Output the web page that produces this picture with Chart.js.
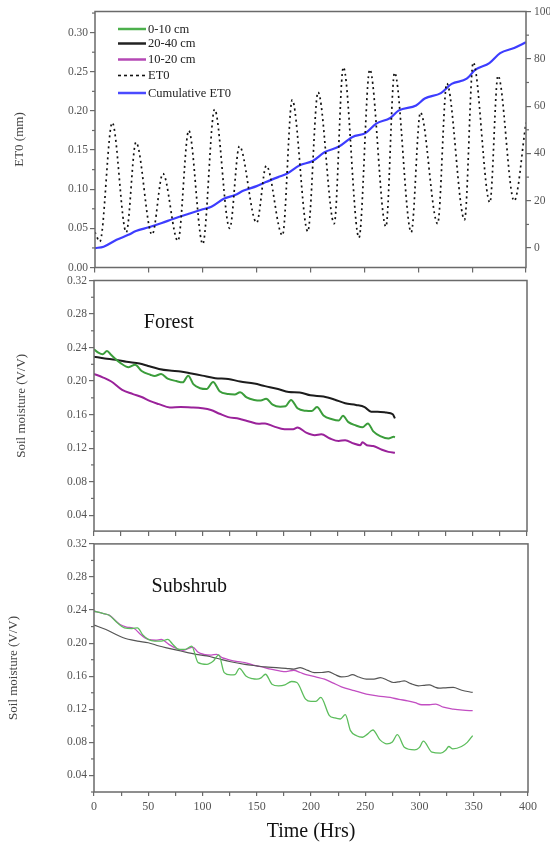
<!DOCTYPE html>
<html>
<head>
<meta charset="utf-8">
<script src="https://cdn.jsdelivr.net/npm/chart.js@4.4.1/dist/chart.umd.min.js"></script>
<style>
  body { margin: 0; background: #fff; width: 550px; height: 844px; position: relative; overflow: hidden; }
  canvas { position: absolute; left: 0; }
</style>
</head>
<body>
<canvas id="et" width="550" height="280" style="top:0px;width:550px;height:280px"></canvas>
<canvas id="forest" width="550" height="270" style="top:270px;width:550px;height:270px"></canvas>
<canvas id="shrub" width="550" height="309" style="top:535px;width:550px;height:309px"></canvas>
<script>
// hourly ET0 (mm): daily lows and highs
const et0Hours  = [0, 4.5, 16, 29, 38, 53, 63, 77, 87, 100, 111, 125, 134, 150, 159, 174, 183, 197.5, 207, 222, 230.5, 245, 255, 270, 278, 293.5, 302, 318, 326.5, 343, 351, 366.5, 374, 389, 400];
const et0Values = [0.045, 0.033, 0.185, 0.045, 0.160, 0.042, 0.120, 0.034, 0.175, 0.030, 0.202, 0.050, 0.155, 0.057, 0.130, 0.041, 0.214, 0.046, 0.224, 0.056, 0.256, 0.038, 0.253, 0.052, 0.249, 0.045, 0.198, 0.056, 0.235, 0.061, 0.262, 0.083, 0.245, 0.085, 0.185];

// cumulative ET0 (right axis)
const cumHours  = [0, 8, 20, 31, 38, 50, 62, 73, 87, 100, 108, 120, 130, 138, 150, 158, 170, 178, 190, 202, 213, 226, 239, 251, 261, 274, 282, 298, 306, 321, 331, 345, 353, 366, 376, 389, 400];
const cumValues = [0, 0.6, 3.5, 5.6, 7.2, 8.8, 10.6, 12.4, 14.5, 16.4, 17.5, 21.0, 22.4, 24.3, 26.2, 27.8, 30.0, 31.4, 35.0, 36.8, 40.5, 42.8, 47.0, 48.6, 52.6, 55.0, 58.2, 60.3, 63.2, 65.5, 69.4, 71.6, 75.4, 78.2, 82.4, 84.6, 87.0];

// Forest soil moisture (V/V)
const forestTopHours  = [0, 4, 8, 12, 16, 24, 32, 38, 44, 52, 56, 62, 68, 76, 82, 87, 92, 98, 104, 110, 116, 124, 130, 135, 141, 148, 154, 159, 165, 172, 177, 182, 188, 196, 201, 206, 212, 220, 226, 230, 235, 242, 248, 253, 258, 265, 272, 277, 278];
const forestTopValues = [0.238, 0.234, 0.232, 0.236, 0.231, 0.222, 0.2165, 0.2195, 0.212, 0.2075, 0.206, 0.2085, 0.203, 0.200, 0.1985, 0.2065, 0.196, 0.1915, 0.1905, 0.199, 0.188, 0.1845, 0.184, 0.1868, 0.1805, 0.1775, 0.1768, 0.179, 0.172, 0.1695, 0.170, 0.1775, 0.1675, 0.1645, 0.1642, 0.169, 0.159, 0.1545, 0.153, 0.1585, 0.151, 0.147, 0.1448, 0.1495, 0.140, 0.134, 0.1315, 0.1335, 0.133];

const forestDeepHours  = [0, 10, 20, 30, 42, 50, 60, 70, 80, 90, 100, 112, 124, 135, 148, 158, 170, 180, 190, 200, 212, 222, 232, 242, 250, 256, 262, 270, 276, 278];
const forestDeepValues = [0.229, 0.227, 0.2255, 0.223, 0.221, 0.218, 0.2145, 0.2125, 0.2115, 0.209, 0.2065, 0.2035, 0.2025, 0.1995, 0.197, 0.194, 0.1905, 0.187, 0.1865, 0.183, 0.1815, 0.178, 0.1735, 0.1715, 0.169, 0.1635, 0.1635, 0.1625, 0.1605, 0.1555];

const forestMidHours  = [0, 8, 16, 26, 36, 44, 52, 60, 70, 80, 90, 100, 108, 116, 124, 134, 144, 152, 158, 166, 176, 184, 188, 196, 204, 210, 218, 226, 232, 240, 246, 248, 252, 258, 266, 272, 278];
const forestMidValues = [0.2085, 0.2045, 0.1995, 0.1895, 0.1845, 0.181, 0.176, 0.1725, 0.1685, 0.169, 0.1685, 0.1675, 0.1655, 0.161, 0.157, 0.155, 0.1515, 0.149, 0.1495, 0.146, 0.1425, 0.1425, 0.1445, 0.1385, 0.1355, 0.1365, 0.1315, 0.1285, 0.1295, 0.1255, 0.1235, 0.127, 0.1235, 0.1225, 0.118, 0.1155, 0.1145];

// Subshrub soil moisture (V/V)
const shrubTopHours  = [0, 8, 14, 22, 28, 35, 40, 45, 50, 56, 62, 68, 73, 78, 84, 90, 96, 104, 110, 115, 120, 126, 130, 134, 140, 146, 150, 154, 158, 164, 170, 176, 182, 187, 195, 200, 204.5, 209, 217, 222, 227, 231.6, 236.4, 242, 247.6, 252, 257, 263.6, 270, 275, 279.6, 286, 295.5, 300, 303.5, 311.5, 319.5, 324, 327, 330.7, 338.7, 344, 349];
const shrubTopValues = [0.2386, 0.236, 0.2338, 0.224, 0.2185, 0.2177, 0.2185, 0.210, 0.2045, 0.2025, 0.2025, 0.2045, 0.198, 0.1925, 0.1925, 0.1965, 0.1764, 0.1744, 0.1784, 0.1857, 0.1644, 0.1616, 0.162, 0.1696, 0.1604, 0.157, 0.1564, 0.158, 0.1624, 0.1504, 0.1484, 0.1495, 0.1536, 0.1524, 0.1323, 0.1295, 0.1295, 0.1343, 0.1123, 0.1095, 0.1083, 0.1135, 0.0942, 0.088, 0.0862, 0.090, 0.095, 0.083, 0.0782, 0.0805, 0.0894, 0.0742, 0.071, 0.074, 0.0814, 0.0682, 0.067, 0.0705, 0.075, 0.0722, 0.075, 0.080, 0.0882];

const shrubDeepHours  = [0, 11, 27, 40, 50, 60, 69, 80, 94, 104, 113, 126, 139, 150, 158, 168, 177, 184, 190, 197, 203, 210, 216, 222, 228, 234, 238, 244, 251, 258, 264, 270, 276, 282, 286, 292, 299, 304, 309, 314, 318, 324, 331, 339, 349];
const shrubDeepValues = [0.2218, 0.2165, 0.2065, 0.2025, 0.2005, 0.1965, 0.1937, 0.1905, 0.1865, 0.1845, 0.1817, 0.1775, 0.1744, 0.1725, 0.1712, 0.1705, 0.1696, 0.1685, 0.1704, 0.167, 0.1644, 0.1645, 0.1656, 0.162, 0.1592, 0.160, 0.162, 0.159, 0.1564, 0.1565, 0.1584, 0.1555, 0.1524, 0.1535, 0.1544, 0.151, 0.1484, 0.149, 0.1496, 0.147, 0.1456, 0.146, 0.1464, 0.143, 0.1404];

const shrubMidHours  = [0, 8, 14, 24, 30, 37, 43, 50, 57, 62, 69, 76, 82, 91, 96, 101, 108, 113, 118, 123, 131, 139, 147, 155, 163, 171, 177, 184, 190, 196.5, 205, 212.5, 220, 228, 240, 251, 262, 273, 281, 289, 296, 302, 309, 315, 322, 331, 340, 349];
const shrubMidValues = [0.2386, 0.236, 0.2338, 0.2226, 0.2195, 0.2177, 0.2105, 0.2045, 0.2035, 0.2045, 0.1985, 0.1935, 0.1913, 0.1953, 0.189, 0.1865, 0.1855, 0.1865, 0.1825, 0.1805, 0.178, 0.1764, 0.1735, 0.1712, 0.1685, 0.1664, 0.1655, 0.1672, 0.1645, 0.1616, 0.159, 0.1564, 0.152, 0.1472, 0.1425, 0.1384, 0.136, 0.1343, 0.132, 0.1303, 0.128, 0.1255, 0.1255, 0.1263, 0.1225, 0.1203, 0.119, 0.1183];

const legendLabels = ['0-10 cm', '20-40 cm', '10-20 cm', 'ET0', 'Cumulative ET0'];

const serif = '"Liberation Serif", "Times New Roman", serif';
const frameGray = '#6a6a6a';
const tickText = '#555';
const green = '#3b9d3b', black = '#1c1c1c', purple = '#9a229a', blue = '#3d3dff';

const pts = (xs, ys) => xs.map((x, i) => ({x: x, y: ys[i]}));

function line(label, xs, ys, color, width, extra) {
  return Object.assign({
    label: label, data: pts(xs, ys), borderColor: color, borderWidth: width,
    pointRadius: 0, fill: false, cubicInterpolationMode: 'monotone'
  }, extra || {});
}

// frame box, minor ticks, panel caption and (top panel) legend
const decor = {
  id: 'decor',
  afterDraw(chart, args, o) {
    const ctx = chart.ctx, a = chart.chartArea;
    ctx.save();
    ctx.strokeStyle = frameGray;
    ctx.lineWidth = 1.5;
    ctx.strokeRect(a.left, a.top, a.right - a.left, a.bottom - a.top);
    ctx.lineWidth = 1.2;
    (o.minor || []).forEach(m => {
      const s = chart.scales[m.axis];
      for (let v = m.start; v <= s.max + 1e-9; v += m.step) {
        if (v < s.min) continue;
        const p = s.getPixelForValue(v);
        ctx.beginPath();
        if (s.position === 'left') { ctx.moveTo(a.left, p); ctx.lineTo(a.left - 3, p); }
        else if (s.position === 'right') { ctx.moveTo(a.right, p); ctx.lineTo(a.right + 3, p); }
        else { ctx.moveTo(p, a.bottom); ctx.lineTo(p, a.bottom + 3); }
        ctx.stroke();
      }
    });
    if (o.caption) {
      ctx.fillStyle = '#111';
      ctx.font = '20px ' + serif;
      ctx.textBaseline = 'middle';
      ctx.fillText(o.caption.text, chart.scales.x.getPixelForValue(o.caption.x), chart.scales.y.getPixelForValue(o.caption.y));
    }
    if (o.legend) {
      ctx.font = '12.5px ' + serif;
      ctx.textBaseline = 'middle';
      o.legend.forEach((it, i) => {
        const y = a.top + it.dy;
        ctx.beginPath();
        ctx.strokeStyle = it.color;
        ctx.lineWidth = it.width;
        ctx.setLineDash(it.dash || []);
        ctx.moveTo(a.left + 23, y);
        ctx.lineTo(a.left + 51, y);
        ctx.stroke();
        ctx.setLineDash([]);
        ctx.fillStyle = '#222';
        ctx.fillText(legendLabels[i], a.left + 53, y + 0.5);
      });
    }
    ctx.restore();
  }
};

const tickFont = {family: serif, size: 11.5};

function yLeft(min, max, step, title, titlePad, width) {
  return {
    position: 'left', min: min, max: max,
    afterFit: s => { s.width = width; },
    border: {display: false},
    grid: {drawOnChartArea: false, tickLength: 5, color: frameGray, lineWidth: 1.2},
    ticks: {stepSize: step, includeBounds: false, padding: 2, color: tickText, font: tickFont,
            callback: v => v.toFixed(2)},
    title: {display: true, text: title, color: '#444', font: {family: serif, size: 13},
            padding: {top: titlePad, bottom: 0}}
  };
}

function xAxis(step, height, labels) {
  return {
    type: 'linear', min: 0, max: 400,
    afterFit: s => { s.height = height; },
    border: {display: false},
    grid: {drawOnChartArea: false, tickLength: labels ? 4 : 5, color: frameGray, lineWidth: 1.2},
    ticks: labels
      ? {stepSize: step, maxRotation: 0, autoSkip: false, padding: 4, color: tickText, font: {family: serif, size: 12},
         callback: v => (v % 50 === 0 ? String(v) : '')}
      : {stepSize: step, display: false}
  };
}

const base = {responsive: false, animation: false, events: []};

// ET0 panel
new Chart(document.getElementById('et'), {
  type: 'line',
  data: {datasets: [
    line('ET0', et0Hours, et0Values, '#111', 1.7, {borderDash: [2, 3.5], yAxisID: 'y'}),
    line('Cumulative ET0', cumHours, cumValues, blue, 2.2, {yAxisID: 'y2'})
  ]},
  options: Object.assign({}, base, {
    layout: {padding: {top: 11.5, left: 0, right: 0, bottom: 0}},
    scales: {
      x: xAxis(50, 12.5, false),
      y: yLeft(0, 0.327, 0.05, 'ET0 (mm)', 12, 95),
      y2: {
        position: 'right', min: -8.2, max: 100,
        afterFit: s => { s.width = 24; },
        border: {display: false},
        grid: {drawOnChartArea: false, tickLength: 5, color: frameGray, lineWidth: 1.2},
        ticks: {stepSize: 20, includeBounds: false, padding: 3, color: tickText, font: tickFont}
      }
    },
    plugins: {
      legend: {display: false}, tooltip: {enabled: false},
      decor: {
        minor: [{axis: 'y', start: 0.025, step: 0.05}, {axis: 'y2', start: 10, step: 20}],
        legend: [
          {dy: 17.5, color: '#4cb04c', width: 2.5},
          {dy: 32, color: '#222', width: 2.5},
          {dy: 48, color: '#b548b5', width: 2.5},
          {dy: 64, color: '#111', width: 1.6, dash: [3, 3]},
          {dy: 81.5, color: '#4a4aff', width: 2.5}
        ]
      }
    }
  }),
  plugins: [decor]
});

// Forest panel
new Chart(document.getElementById('forest'), {
  type: 'line',
  data: {datasets: [
    line('0-10 cm', forestTopHours, forestTopValues, green, 2),
    line('20-40 cm', forestDeepHours, forestDeepValues, black, 2),
    line('10-20 cm', forestMidHours, forestMidValues, purple, 2)
  ]},
  options: Object.assign({}, base, {
    layout: {padding: {top: 10.5, left: 0, right: 23, bottom: 0}},
    scales: {
      x: xAxis(25, 7, false),
      y: yLeft(0.021, 0.32, 0.04, 'Soil moisture (V/V)', 14, 94)
    },
    plugins: {
      legend: {display: false}, tooltip: {enabled: false},
      decor: {
        minor: [{axis: 'y', start: 0.02, step: 0.04}],
        caption: {text: 'Forest', x: 46, y: 0.27}
      }
    }
  }),
  plugins: [decor]
});

// Subshrub panel
new Chart(document.getElementById('shrub'), {
  type: 'line',
  data: {datasets: [
    line('0-10 cm', shrubTopHours, shrubTopValues, '#5cbd5c', 1.3),
    line('20-40 cm', shrubDeepHours, shrubDeepValues, '#555', 1.2),
    line('10-20 cm', shrubMidHours, shrubMidValues, '#c24ec2', 1.3)
  ]},
  options: Object.assign({}, base, {
    layout: {padding: {top: 7, left: 0, right: 22, bottom: 0}},
    scales: {
      x: Object.assign(xAxis(25, 52, true), {
        title: {display: true, text: 'Time (Hrs)', color: '#111', font: {family: serif, size: 20},
                padding: {top: 0, bottom: 0}}
      }),
      y: yLeft(0.02, 0.32, 0.04, 'Soil moisture (V/V)', 6, 94)
    },
    plugins: {
      legend: {display: false}, tooltip: {enabled: false},
      decor: {
        minor: [{axis: 'y', start: 0.02, step: 0.04}],
        caption: {text: 'Subshrub', x: 53, y: 0.268}
      }
    }
  }),
  plugins: [decor]
});
</script>
</body>
</html>
